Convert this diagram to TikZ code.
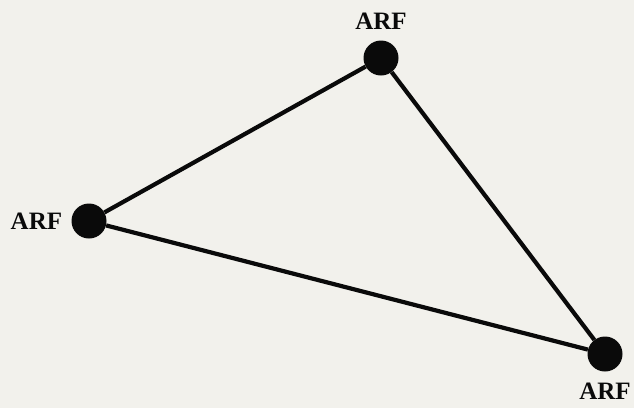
\documentclass[tikz,border=0pt]{standalone}
\usepackage{fontspec}
\setmainfont{Liberation Serif}
\usepackage{tikz}
\definecolor{paper}{HTML}{F2F1EC}
\definecolor{inkblack}{HTML}{0A0A0A}

\tikzset{
  router/.style={circle, fill=inkblack, inner sep=0pt, minimum size=35pt},
  link/.style={draw=inkblack, line width=4.2pt},
  tag/.style={font=\fontsize{25}{30}\selectfont\bfseries, text=inkblack, inner sep=0pt}
}

\begin{document}
\begin{tikzpicture}[x=1pt, y=-1pt]

  % Background
  \fill[paper] (0,0) rectangle (634,408);

  % Routers
  \node[router, label={[tag, label distance=11pt]above:ARF}] (arfT) at (381,58) {};
  \node[router, label={[tag, label distance=9pt]left:ARF}] (arfL) at (89,221) {};
  \node[router, label={[tag, label distance=11pt]below:ARF}] (arfR) at (605,354) {};

  % Links
  \draw[link] (arfL) -- (arfT);
  \draw[link] (arfT) -- (arfR);
  \draw[link] (arfR) -- (arfL);

\end{tikzpicture}
\end{document}
